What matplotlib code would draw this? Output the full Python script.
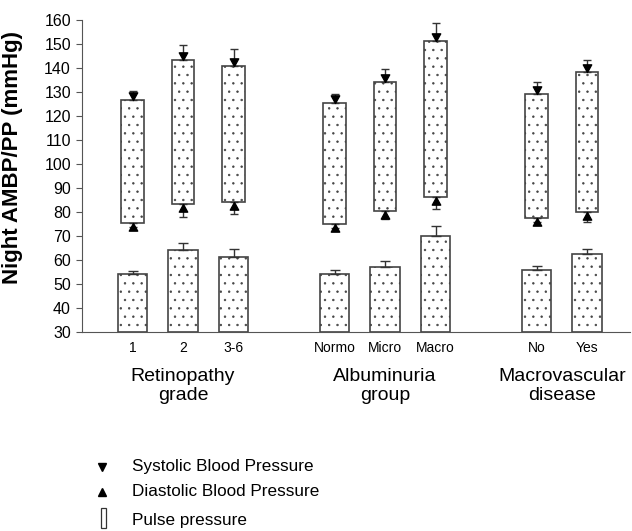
import matplotlib
matplotlib.use("Agg")
import matplotlib.pyplot as plt
import numpy as np
from matplotlib.path import Path
from matplotlib.lines import Line2D
from matplotlib.patches import Rectangle
from matplotlib.transforms import blended_transform_factory

plt.rcParams['font.family'] = ['Liberation Sans', 'DejaVu Sans']
plt.rcParams['hatch.color'] = '#666666'
plt.rcParams['hatch.linewidth'] = 0.5

# ---- data ----
groups = ['Retinopathy\ngrade', 'Albuminuria\ngroup', 'Macrovascular\ndisease']
group_sizes = [3, 3, 2]
categories = ['1', '2', '3-6', 'Normo', 'Micro', 'Macro', 'No', 'Yes']
systolic = [126.5, 143.3, 140.8, 125.5, 134.1, 151.4, 129.1, 138.2]
systolic_se = [3.8, 6.3, 7.1, 3.6, 5.4, 7.5, 5.0, 5.1]
diastolic = [75.2, 83.3, 84.1, 74.8, 80.5, 86.3, 77.3, 79.8]
diastolic_se = [1.5, 5.6, 5.0, 1.5, 3.5, 5.1, 1.5, 3.9]
pulse_pressure = [53.9, 63.9, 61.0, 54.1, 57.0, 70.0, 55.9, 62.3]
pulse_pressure_se = [1.5, 3.2, 3.5, 1.6, 2.5, 4.0, 1.5, 2.3]
y_baseline = 30

# positions: groups separated by one empty slot
positions = []
group_centers = []
start = 0
for n in group_sizes:
    pos = list(range(start, start + n))
    positions += pos
    group_centers.append(np.mean(pos))
    start += n + 1
positions = np.array(positions, dtype=float)

fig = plt.figure(figsize=(6.32, 5.31), dpi=100)
ax = fig.add_axes([82/632, 1 - 331.7/531, (630-82)/632, (331.7-20)/531])

systolic = np.array(systolic); diastolic = np.array(diastolic)
pulse_pressure = np.array(pulse_pressure)

# Pulse pressure bars
ax.bar(positions, pulse_pressure - y_baseline, bottom=y_baseline, width=0.59,
       facecolor='white', edgecolor='#444444', linewidth=1.2, hatch='..', zorder=2)
ax.errorbar(positions, pulse_pressure, yerr=[np.zeros(len(positions)), pulse_pressure_se],
            fmt='none', ecolor='#333333', elinewidth=1.0, capsize=3.5, capthick=1.0, zorder=3)

# floating systolic/diastolic bars
ax.bar(positions, systolic - diastolic, bottom=diastolic, width=0.44,
       facecolor='white', edgecolor='#444444', linewidth=1.2, hatch='..', zorder=2)
ax.errorbar(positions, systolic, yerr=[np.zeros(len(positions)), systolic_se],
            fmt='none', ecolor='#333333', elinewidth=1.0, capsize=3.0, capthick=1.0, zorder=3)
ax.errorbar(positions, diastolic, yerr=[diastolic_se, np.zeros(len(positions))],
            fmt='none', ecolor='#333333', elinewidth=1.0, capsize=3.0, capthick=1.0, zorder=3)

down_tri = Path([(-0.55, 1.0), (0.55, 1.0), (0.0, 0.0), (-0.55, 1.0)],
                [Path.MOVETO, Path.LINETO, Path.LINETO, Path.CLOSEPOLY])
up_tri = Path([(-0.55, -1.0), (0.55, -1.0), (0.0, 0.0), (-0.55, -1.0)],
              [Path.MOVETO, Path.LINETO, Path.LINETO, Path.CLOSEPOLY])
ax.plot(positions, systolic, linestyle='none', marker=down_tri, markersize=11,
        color='black', zorder=4)
ax.plot(positions, diastolic, linestyle='none', marker=up_tri, markersize=11,
        color='black', zorder=4)

ax.set_xlim(-1, 9.85)
ax.set_ylim(30, 160)
ax.set_yticks(np.arange(30, 161, 10))
ax.tick_params(axis='y', labelsize=11.5, length=4, width=0.8, color='#555555', pad=4)
ax.set_xticks(positions)
ax.set_xticklabels(categories, fontsize=10)
ax.tick_params(axis='x', length=0, pad=7)
for s in ['top', 'right']:
    ax.spines[s].set_visible(False)
ax.spines['left'].set_color('#555555')
ax.spines['bottom'].set_color('#555555')
ax.set_ylabel('Night AMBP/PP (mmHg)', fontsize=16, fontweight='bold')
ax.yaxis.set_label_coords(-0.108, 0.56)

trans = blended_transform_factory(ax.transData, fig.transFigure)
for gc, gname in zip(group_centers, groups):
    ax.text(gc, 1 - 386/531, gname, transform=trans, ha='center', va='center',
            fontsize=14, linespacing=1.1)

# legend (manual)
lx = 102/632
fig.add_artist(Line2D([lx], [1 - 467/531], marker='v', markersize=6, color='black',
                      linestyle='none', transform=fig.transFigure))
fig.add_artist(Line2D([lx], [1 - 492/531], marker='^', markersize=6, color='black',
                      linestyle='none', transform=fig.transFigure))
fig.add_artist(Rectangle((101/632, 1 - 528/531), 5/632, 20/531, transform=fig.transFigure,
                         facecolor='white', edgecolor='#333333', linewidth=0.9))
tx = 132/632
fig.text(tx, 1 - 467/531, 'Systolic Blood Pressure', fontsize=12.3, va='center', ha='left')
fig.text(tx, 1 - 492/531, 'Diastolic Blood Pressure', fontsize=12.3, va='center', ha='left')
fig.text(tx, 1 - 520/531, 'Pulse pressure', fontsize=12.3, va='center', ha='left')

fig.savefig('out.png', dpi=100)
